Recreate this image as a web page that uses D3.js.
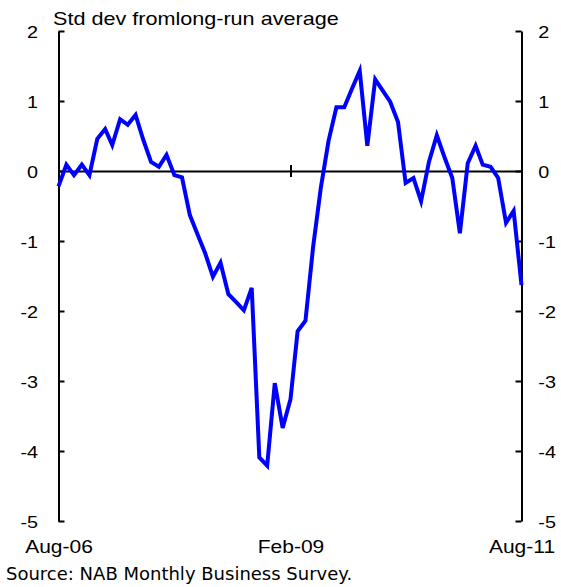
<!DOCTYPE html>
<html>
<head>
<meta charset="utf-8">
<script src="https://cdn.jsdelivr.net/npm/d3@7"></script>
<style>
  body { margin: 0; background: #fff; }
  svg text { font-family: "Liberation Sans", Arial, sans-serif; fill: #000; }
</style>
</head>
<body>
<svg id="chart" width="561" height="587"></svg>
<script>
// Business conditions, monthly Aug-06 to Aug-11 (std dev from long-run average)
const startMonth = new Date(2006, 7, 1);
const endMonth = new Date(2011, 7, 1);
const conditions = [
    -0.22, 0.09, -0.06, 0.09, -0.06, 0.46, 0.60, 0.37, 0.74, 0.66,
    0.80, 0.45, 0.13, 0.06, 0.23, -0.06, -0.09, -0.63, -0.91, -1.17,
    -1.51, -1.31, -1.76, -1.87, -1.99, -1.67, -4.09, -4.21, -3.03, -3.67,
    -3.26, -2.29, -2.14, -1.09, -0.23, 0.43, 0.91, 0.91, 1.17, 1.43,
    0.36, 1.31, 1.14, 0.99, 0.70, -0.17, -0.10, -0.43, 0.13, 0.51,
    0.20, -0.10, -0.89, 0.11, 0.36, 0.09, 0.06, -0.10, -0.74, -0.57,
    -1.63
];
const months = d3.timeMonth.range(startMonth, d3.timeMonth.offset(endMonth, 1));
const xTickDates = [new Date(2006, 7, 1), new Date(2009, 1, 1), new Date(2011, 7, 1)];
const yTicks = [2, 1, 0, -1, -2, -3, -4, -5];

const svg = d3.select("#chart");
const mLeft = 58.5, mRight = 521.5, mTop = 31, mBottom = 521;
const stretch = "scale(1.2,1)";   // the original lettering is drawn wide

const x = d3.scaleTime()
    .domain([startMonth, endMonth])
    .range([mLeft, mRight]);
const y = d3.scaleLinear()
    .domain([-5, 2])
    .range([mBottom, mTop]);

const plain = d => String(d);   // keep ascii hyphen for negatives

// Left and right axes, ticks pointing inward
svg.append("g")
    .attr("transform", `translate(${mLeft},0)`)
    .call(d3.axisLeft(y).tickValues(yTicks).tickSize(-6).tickSizeOuter(0).tickPadding(17).tickFormat(plain))
    .attr("font-family", null)
    .call(g => g.selectAll("text").style("font-size", "16.5px").attr("dy", "0.4em").attr("transform", stretch));

svg.append("g")
    .attr("transform", `translate(${mRight},0)`)
    .call(d3.axisRight(y).tickValues(yTicks).tickSize(-6).tickSizeOuter(0).tickPadding(14).tickFormat(plain))
    .attr("font-family", null)
    .call(g => g.selectAll("text").style("font-size", "16.5px").attr("dy", "0.4em").attr("transform", stretch));

// zero line with crossing tick
const zeroAxis = svg.append("g")
    .attr("transform", `translate(0,${y(0)})`)
    .call(d3.axisBottom(x).tickValues(xTickDates).tickSize(6).tickSizeOuter(0).tickFormat(""));
zeroAxis.selectAll(".tick line").attr("y1", -6);

svg.selectAll(".domain, .tick line")
    .attr("stroke", "#000")
    .attr("stroke-width", 2);

// date labels below the plot
svg.append("g")
    .attr("transform", `translate(0,${mBottom})`)
    .call(d3.axisBottom(x).tickValues(xTickDates).tickSize(0).tickPadding(20).tickFormat(d3.timeFormat("%b-%y")))
    .attr("font-family", null)
    .call(g => g.select(".domain").remove())
    .call(g => g.selectAll("text").style("font-size", "17.5px").attr("transform", stretch));

// series line
const line = d3.line()
    .x((d, i) => x(months[i]))
    .y(d => y(d));

svg.append("path")
    .datum(conditions)
    .attr("fill", "none")
    .attr("stroke", "#0000ff")
    .attr("stroke-width", 4)
    .attr("stroke-linejoin", "miter")
    .attr("d", line);

// title and source
svg.append("g")
    .attr("transform", "translate(53,25)")
    .append("text")
    .attr("transform", stretch)
    .style("font-size", "18px")
    .text("Std dev fromlong-run average");

svg.append("text")
    .attr("x", 6)
    .attr("y", 580)
    .style("font-family", "'DejaVu Sans', sans-serif")
    .style("font-size", "18px")
    .text("Source: NAB Monthly Business Survey.");
</script>
</body>
</html>
